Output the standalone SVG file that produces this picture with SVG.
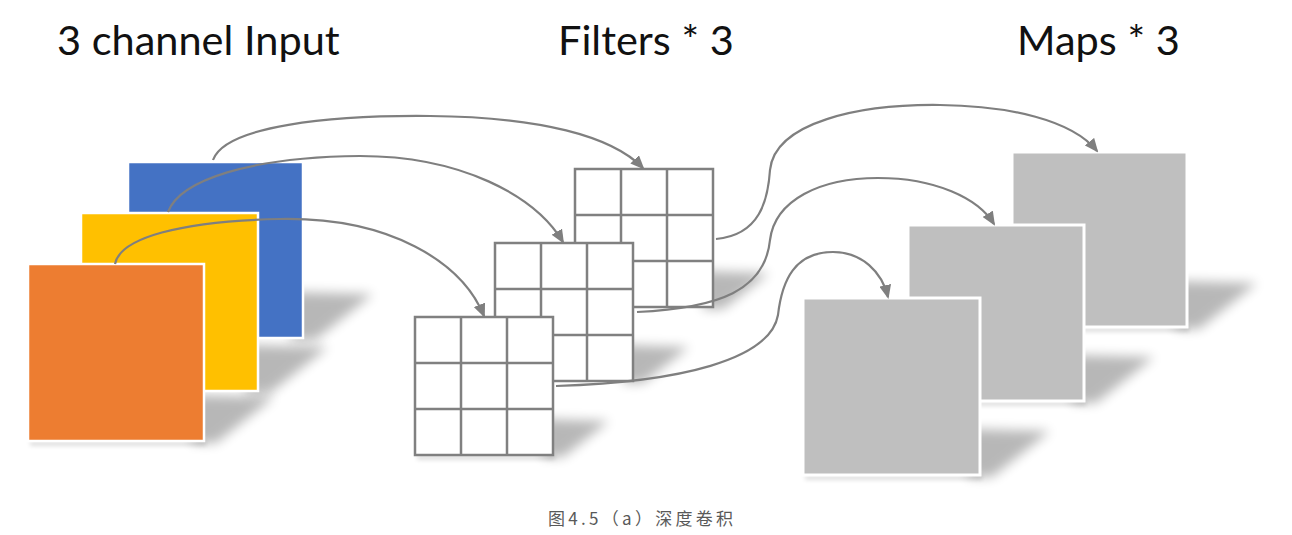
<svg xmlns="http://www.w3.org/2000/svg" xmlns:xlink="http://www.w3.org/1999/xlink" width="1292" height="535" viewBox="0 0 1292 535">
<style>
.title{font-family:Lato,"Open Sans","Liberation Sans",sans-serif;font-size:41.5px;fill:#111}
.cap{font-family:"Noto Sans CJK SC","Noto Sans",sans-serif;font-size:17px;fill:#595959}
.conn{fill:none;stroke:#7f7f7f;stroke-width:2.2;marker-end:url(#arrow)}
.sq{stroke:#fff;stroke-width:2.5}
.map{fill:#bfbfbf;stroke:#fff;stroke-width:3}
.gbox{fill:#fff;stroke:#808080;stroke-width:2.5}
.gl{stroke:#808080;stroke-width:2.5;fill:none}
.shadow{fill:#000;opacity:0.28;filter:url(#blur)}
.ushadow{fill:#000;opacity:0.12;filter:url(#blur2)}
</style>
<defs>
<filter id="blur" x="-50%" y="-50%" width="200%" height="200%"><feGaussianBlur stdDeviation="6"/></filter>
<filter id="blur2" x="-20%" y="-100%" width="140%" height="300%"><feGaussianBlur stdDeviation="2"/></filter>
<marker id="arrow" viewBox="0 0 14 12" refX="12" refY="6" markerWidth="14" markerHeight="12" markerUnits="userSpaceOnUse" orient="auto">
<path d="M0,0 L14,6 L0,12 z" fill="#7f7f7f"/>
</marker>
<g id="gridShape">
<rect x="0" y="0" width="138" height="138" class="gbox"/>
<path class="gl" d="M46,0V138M92,0V138M0,46H138M0,92H138"/>
</g>
<polygon id="shBig" points="-12,-46 70,-44 12,2 -12,2"/>
<polygon id="shSmall" points="-10,-36 56,-34 10,2 -10,2"/>
</defs>
<rect width="1292" height="535" fill="#fff"/>

<g id="shadows">
<use xlink:href="#shBig" class="shadow" transform="translate(303,338)"/>
<use xlink:href="#shBig" class="shadow" transform="translate(258,391)"/>
<use xlink:href="#shBig" class="shadow" transform="translate(204,441)"/>
<use xlink:href="#shSmall" class="shadow" transform="translate(713,307)"/>
<use xlink:href="#shSmall" class="shadow" transform="translate(633,381)"/>
<use xlink:href="#shSmall" class="shadow" transform="translate(553,455)"/>
<use xlink:href="#shBig" class="shadow" transform="translate(1187,327)"/>
<use xlink:href="#shBig" class="shadow" transform="translate(1084,401)"/>
<use xlink:href="#shBig" class="shadow" transform="translate(980,475)"/>
<rect class="ushadow" x="30" y="441" width="176" height="5"/>
<rect class="ushadow" x="417" y="455" width="138" height="5"/>
<rect class="ushadow" x="805" y="475" width="177" height="5"/>
<rect class="ushadow" x="910" y="401" width="176" height="5"/>
<rect class="ushadow" x="1014" y="327" width="175" height="5"/>
</g>

<g id="input-blue"><rect class="sq" x="128" y="162" width="175" height="176" fill="#4472c4"/></g>
<g id="input-yellow"><rect class="sq" x="81" y="213" width="177" height="178" fill="#ffc000"/></g>
<g id="input-orange"><rect class="sq" x="28" y="264" width="176" height="177" fill="#ed7d31"/></g>

<g id="filter-1"><use xlink:href="#gridShape" x="575" y="169"/></g>
<g id="filter-2"><use xlink:href="#gridShape" x="495" y="243"/></g>
<g id="filter-3"><use xlink:href="#gridShape" x="415" y="317"/></g>

<g id="map-1"><rect class="map" x="1012" y="152" width="175" height="175"/></g>
<g id="map-2"><rect class="map" x="908" y="225" width="176" height="176"/></g>
<g id="map-3"><rect class="map" x="803" y="298" width="177" height="177"/></g>

<g id="connectors">
<path class="conn" d="M213,160 C225,126 330,115 430,116 C540,117 612,136 643,168"/>
<path class="conn" d="M168,212 C180,180 250,157 360,156 C460,156 535,195 563,242"/>
<path class="conn" d="M115,264 C120,238 180,221 280,219 C390,217 462,262 484,316"/>
<path class="conn" d="M716,239 C760,235 768,200 770,170 C775,122 860,104 940,105 C1010,106 1072,120 1097,151"/>
<path class="conn" d="M637,312 C720,308 765,290 770,240 C775,200 820,178 878,178 C935,178 978,198 994,224"/>
<path class="conn" d="M556,386 C680,382 770,360 778,315 C782,280 795,252 833,252 C862,252 882,272 888,297"/>
</g>

<g id="labels">
<text class="title" x="57" y="55">3 channel Input</text>
<text class="title" x="558" y="55">Filters * 3</text>
<text class="title" x="1017" y="55">Maps * 3</text>
<text class="cap" x="548" y="525" textLength="185" lengthAdjust="spacing">图4.5（a）深度卷积</text>
</g>
</svg>
